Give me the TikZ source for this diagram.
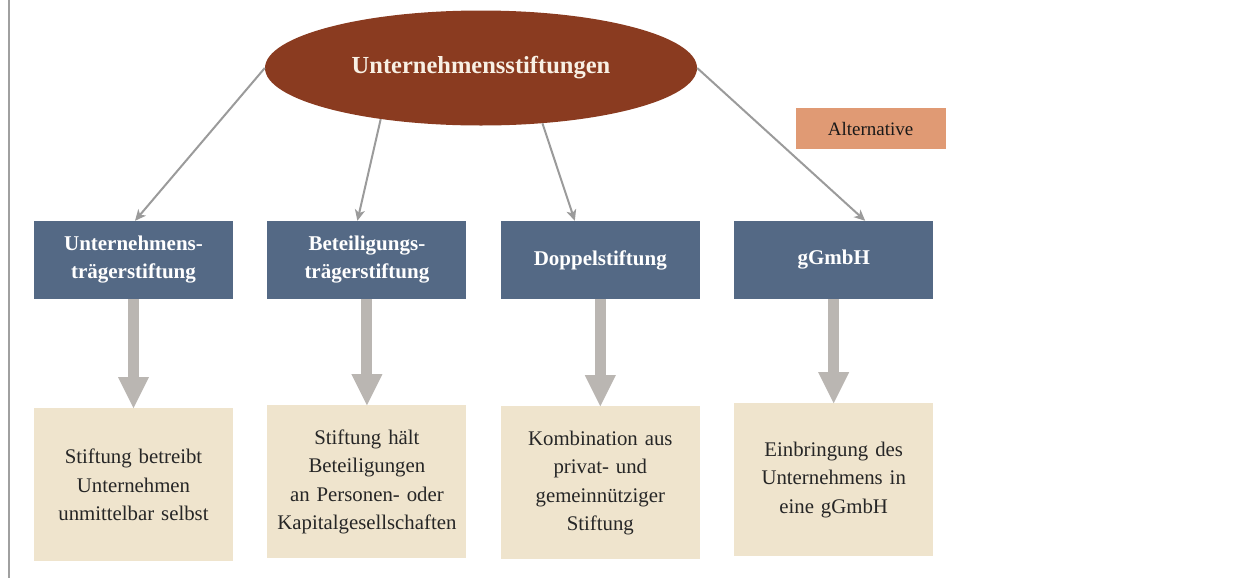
\documentclass[tikz,border=0pt]{standalone}
\usepackage{fontspec}
\setmainfont{Liberation Serif}
\usetikzlibrary{shapes.geometric, positioning, arrows.meta}

\definecolor{rootbrown}{HTML}{8A3B20}
\definecolor{rootcream}{HTML}{F8F0E4}
\definecolor{kindblue}{HTML}{546985}
\definecolor{notebeige}{HTML}{EFE4CD}
\definecolor{altsalmon}{HTML}{E09A74}
\definecolor{linkgray}{HTML}{9B9B9B}
\definecolor{flowgray}{HTML}{BAB6B2}
\definecolor{framegray}{HTML}{A0A0A0}

\tikzset{
  root/.style={ellipse, fill=rootbrown, text=rootcream, inner sep=0pt,
    minimum width=432pt, minimum height=115pt,
    font=\fontsize{24.5}{28}\selectfont\bfseries},
  kind/.style={rectangle, fill=kindblue, text=white, inner sep=2pt,
    minimum width=199pt, minimum height=78pt, text width=195pt, align=center,
    font=\fontsize{21}{28}\selectfont\bfseries},
  note/.style={rectangle, fill=notebeige, text=black!85, inner sep=2pt,
    minimum width=199pt, minimum height=153pt, text width=195pt, align=center,
    font=\fontsize{20.8}{28.5}\selectfont},
  alt/.style={rectangle, fill=altsalmon, text=black!90,
    minimum width=150pt, minimum height=41pt,
    font=\fontsize{19}{22}\selectfont},
  link/.style={draw=linkgray, line width=2pt,
    -{Stealth[length=11pt, width=10pt, inset=3pt]}},
  flow/.style={draw=flowgray, line width=11pt,
    -{Triangle[length=31pt, width=31pt, line width=0pt]}},
}

\begin{document}
\begin{tikzpicture}[x=1pt, y=-1pt, node distance=106pt and 34pt]

    \useasboundingbox (0,0) rectangle (1257,579);
    \draw[framegray, line width=1.5pt] (9,0) -- (9,578);

    \node[root] (stift) at (481,68) {Unternehmensstiftungen};
    \node[alt] (alt) at (870.5,128.5) {Alternative};

    % Stiftungsformen
    \node[kind] (ut) at (133.5,260) {Unternehmens-\\trägerstiftung};
    \node[kind] (bt) [right = of ut] {Beteiligungs-\\trägerstiftung};
    \node[kind] (ds) [right = of bt] {Doppelstiftung};
    \node[kind] (gg) [right = of ds] {gGmbH};

    % Erlaeuterungen
    \node[note] (ut_note) [below = 109pt of ut] {Stiftung betreibt\\Unternehmen\\unmittelbar selbst};
    \node[note] (bt_note) [below = 106pt of bt] {Stiftung hält\\Beteiligungen\\an Personen- oder\\Kapitalgesellschaften};
    \node[note] (ds_note) [below = 107pt of ds] {Kombination aus\\privat- und\\gemeinnütziger\\Stiftung};
    \node[note] (gg_note) [below = 104pt of gg] {Einbringung des\\Unternehmens in\\eine gGmbH};

    \draw[link] (stift.west) -- ([xshift=1.5pt]ut.north);
    \draw[link] (stift.207) -- ([xshift=-9.5pt]bt.north);
    \draw[link] (stift.318) -- ([xshift=-25.5pt]ds.north);
    \draw[link] (stift.east) -- ([xshift=31.5pt]gg.north);

    \draw[flow] (ut) -- (ut_note);
    \draw[flow] (bt) -- (bt_note);
    \draw[flow] (ds) -- (ds_note);
    \draw[flow] (gg) -- (gg_note);

\end{tikzpicture}
\end{document}
